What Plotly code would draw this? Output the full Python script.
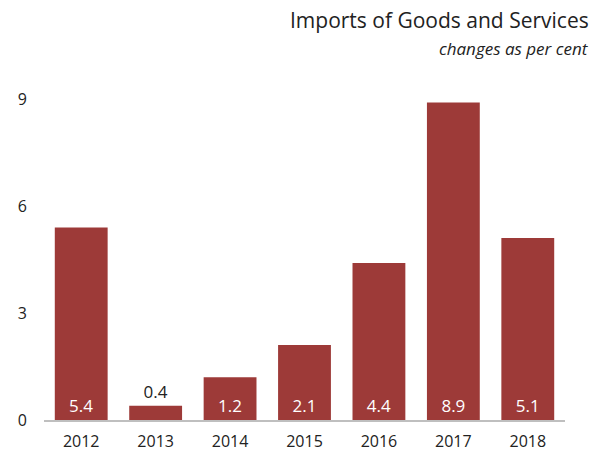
import plotly.graph_objects as go

# Annual change in imports of goods and services (%)
years = ["2012", "2013", "2014", "2015", "2016", "2017", "2018"]
changes = [5.4, 0.4, 1.2, 2.1, 4.4, 8.9, 5.1]
y_ticks = [0, 3, 6, 9]

title_text = "Imports of Goods and Services"
subtitle_text = "changes as per cent"

BAR_COLOR = "#9d3a38"
FONT = "Open Sans"

# Small bars cannot hold their label, so it sits above them in dark text
positions = ["inside" if v >= 1 else "outside" for v in changes]
text_colors = ["white" if v >= 1 else "#222222" for v in changes]

fig = go.Figure(
    go.Bar(
        x=years,
        y=changes,
        marker=dict(color=BAR_COLOR, line=dict(width=0)),
        text=[f"{v:.1f}" for v in changes],
        textposition=positions,
        insidetextanchor="start",
        textfont=dict(family=FONT, size=17, color=text_colors),
        cliponaxis=False,
        hoverinfo="skip",
    )
)

fig.update_layout(
    width=594,
    height=459,
    margin=dict(l=44, r=29, t=99, b=39),
    paper_bgcolor="white",
    plot_bgcolor="white",
    bargap=0.29,
    showlegend=False,
    font=dict(family=FONT, size=16, color="#222222"),
    uniformtext=dict(minsize=10, mode="show"),
    annotations=[
        dict(
            text=title_text,
            xref="paper", yref="paper",
            x=1.05, y=1.0, yshift=79,
            xanchor="right", yanchor="middle",
            showarrow=False,
            font=dict(family=FONT, size=21, color="#222222"),
        ),
        dict(
            text=f"<i>{subtitle_text}</i>",
            xref="paper", yref="paper",
            x=1.05, y=1.0, yshift=51,
            xanchor="right", yanchor="middle",
            showarrow=False,
            font=dict(family=FONT, size=17, color="#222222"),
        ),
    ],
)

fig.update_xaxes(
    showline=True,
    linecolor="#bfbfbf",
    linewidth=2,
    ticks="",
    showgrid=False,
    automargin=False,
    ticklabelstandoff=6,
    tickfont=dict(family=FONT, size=16, color="#222222"),
)

fig.update_yaxes(
    range=[0, 9],
    tickvals=y_ticks,
    ticktext=[str(t) for t in y_ticks],
    showgrid=False,
    zeroline=False,
    showline=False,
    ticks="",
    automargin=False,
    ticklabelstandoff=16,
    tickfont=dict(family=FONT, size=16, color="#222222"),
)

fig.write_html("out.html")
